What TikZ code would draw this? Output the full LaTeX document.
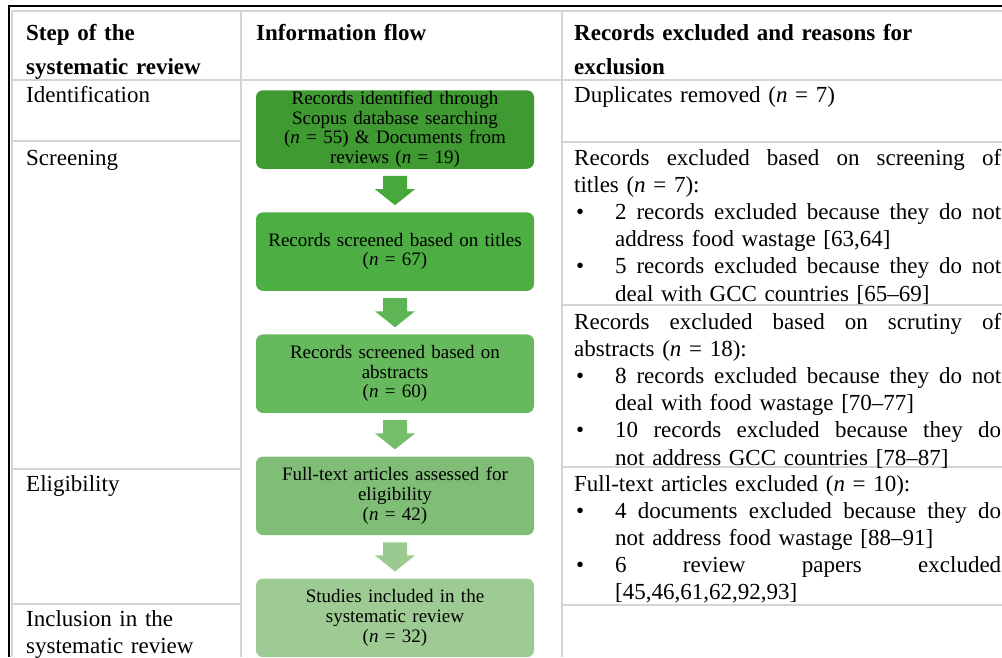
\documentclass[tikz,border=0pt]{standalone}
\usepackage{fontspec}
\setmainfont{Liberation Serif}
\usetikzlibrary{positioning,calc}

\definecolor{rulegray}{RGB}{212,212,212}
\definecolor{boxA}{RGB}{63,154,50}
\definecolor{boxB}{RGB}{77,174,67}
\definecolor{boxC}{RGB}{103,185,94}
\definecolor{boxD}{RGB}{128,190,119}
\definecolor{boxE}{RGB}{158,203,148}
\definecolor{arrA}{RGB}{72,168,60}
\definecolor{arrB}{RGB}{93,181,83}
\definecolor{arrC}{RGB}{117,188,107}
\definecolor{arrD}{RGB}{154,202,143}

\newcommand{\fullline}[1]{\leavevmode\hbox to 427pt{\spaceskip=.25em plus 1fil minus .1em\relax #1}}
\newcommand{\bulletline}[1]{\leavevmode\hbox to 41pt{\hspace{2pt}\textbullet\hfil}%
  \hbox to 386pt{\spaceskip=.25em plus 1fil minus .1em\relax #1}}
\newcommand{\hangline}[1]{\hspace*{41pt}#1}
\newcommand{\flowarrow}[3]{\fill[#3] ($(#1.south)+(-12,7)$) -- ($(#1.south)+(12,7)$)
  -- ($(#2.north)+(12,-23)$) -- ($(#2.north)+(20,-23)$) -- ($(#2.north)+(0,-7)$)
  -- ($(#2.north)+(-20,-23)$) -- ($(#2.north)+(-12,-23)$) -- cycle;}

\begin{document}
\begin{tikzpicture}[x=1pt,y=-1pt,
    flowbox/.style={rounded corners=7pt, minimum width=278pt, minimum height=78.5pt,
      text width=272pt, align=center, inner sep=0pt, font=\fontsize{19}{19.6}\selectfont},
    celltext/.style={anchor=base west, inner sep=0pt, text width=430pt, align=left,
      font=\fontsize{23}{27.2}\selectfont},
    headtext/.style={anchor=base west, inner sep=0pt, text width=430pt, align=left,
      font=\bfseries\fontsize{23}{34}\selectfont},
    gridline/.style={draw=rulegray, line width=1.4pt},
    node distance=43.2pt]
  \useasboundingbox (0,0) rectangle (1002,657);

  % table frame and rules
  \draw[gridline] (12,11) -- (1002,11);
  \draw[gridline] (12,11) -- (12,657);
  \draw[gridline] (12,80) -- (1002,80);
  \draw[gridline] (241,11) -- (241,657);
  \draw[gridline] (562,11) -- (562,657);
  \draw[gridline] (12,141) -- (241,141);
  \draw[gridline] (12,469) -- (241,469);
  \draw[gridline] (12,604) -- (241,604);
  \draw[gridline] (562,142) -- (1002,142);
  \draw[gridline] (562,305) -- (1002,305);
  \draw[gridline] (562,467) -- (1002,467);
  \draw[gridline] (562,605) -- (1002,605);
  \draw[line width=2.6pt] (8,6) -- (1002,6);
  \draw[line width=2.6pt] (9,5) -- (9,657);

  % header
  \node[headtext] (hstep) at (26,40) {Step of the\\systematic review};
  \node[headtext] (hflow) at (256,40) {Information flow};
  \node[headtext] (hexcl) at (574,40) {Records excluded and reasons for\\exclusion};

  % steps
  \node[celltext] (sident) at (26,102) {Identification};
  \node[celltext] (sscreen) at (26,165) {Screening};
  \node[celltext] (selig) at (26,491) {Eligibility};
  \node[celltext] (sincl) at (26,626) {Inclusion in the\\systematic review};

  % flow
  \node[flowbox, fill=boxA] (ident) at (395,129.5) {Records identified through\\Scopus database searching\\(\textit{n} = 55) \& Documents from\\reviews (\textit{n} = 19)};
  \node[flowbox, fill=boxB, below=of ident] (titles) {Records screened based on titles\\(\textit{n} = 67)};
  \node[flowbox, fill=boxC, below=of titles] (abstr) {Records screened based on\\abstracts\\(\textit{n} = 60)};
  \node[flowbox, fill=boxD, below=of abstr] (fulltext) {Full-text articles assessed for\\eligibility\\(\textit{n} = 42)};
  \node[flowbox, fill=boxE, below=of fulltext] (incl) {Studies included in the\\systematic review\\(\textit{n} = 32)};
  \flowarrow{ident}{titles}{arrA}
  \flowarrow{titles}{abstr}{arrB}
  \flowarrow{abstr}{fulltext}{arrC}
  \flowarrow{fulltext}{incl}{arrD}

  % exclusions
  \node[celltext] (xdup) at (574,102) {Duplicates removed (\textit{n} = 7)};
  \node[celltext] (xtitles) at (574,165) {\fullline{Records excluded based on screening of}\\
    titles (\textit{n} = 7):\\
    \bulletline{2 records excluded because they do not}\\
    \hangline{address food wastage [63,64]}\\
    \bulletline{5 records excluded because they do not}\\
    \hangline{deal with GCC countries [65--69]}};
  \node[celltext] (xabstr) at (574,329) {\fullline{Records excluded based on scrutiny of}\\
    abstracts (\textit{n} = 18):\\
    \bulletline{8 records excluded because they do not}\\
    \hangline{deal with food wastage [70--77]}\\
    \bulletline{10 records excluded because they do}\\
    \hangline{not address GCC countries [78--87]}};
  \node[celltext] (xfull) at (574,491) {Full-text articles excluded (\textit{n} = 10):\\
    \bulletline{4 documents excluded because they do}\\
    \hangline{not address food wastage [88--91]}\\
    \bulletline{6 review papers excluded}\\
    \hangline{[45,46,61,62,92,93]}};
\end{tikzpicture}
\end{document}
